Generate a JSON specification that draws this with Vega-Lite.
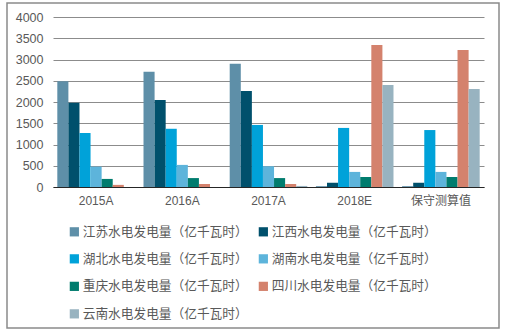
{
  "$schema": "https://vega.github.io/schema/vega-lite/v6.json",
  "width": 492,
  "height": 325,
  "autosize": {"type": "none"},
  "padding": {"left": 7, "top": 3, "right": 8, "bottom": 4},
  "background": "white",
  "config": {
    "view": {"stroke": "#8a8a8a", "strokeWidth": 1.5},
    "font": "Liberation Sans, Noto Sans CJK SC"
  },
  "data": {
    "values": [
      {"category": "2015A", "series": "江苏水电发电量（亿千瓦时）", "value": 2490},
      {"category": "2015A", "series": "江西水电发电量（亿千瓦时）", "value": 1980},
      {"category": "2015A", "series": "湖北水电发电量（亿千瓦时）", "value": 1270},
      {"category": "2015A", "series": "湖南水电发电量（亿千瓦时）", "value": 480},
      {"category": "2015A", "series": "重庆水电发电量（亿千瓦时）", "value": 190},
      {"category": "2015A", "series": "四川水电发电量（亿千瓦时）", "value": 50},
      {"category": "2015A", "series": "云南水电发电量（亿千瓦时）", "value": 0},
      {"category": "2016A", "series": "江苏水电发电量（亿千瓦时）", "value": 2710},
      {"category": "2016A", "series": "江西水电发电量（亿千瓦时）", "value": 2050},
      {"category": "2016A", "series": "湖北水电发电量（亿千瓦时）", "value": 1370},
      {"category": "2016A", "series": "湖南水电发电量（亿千瓦时）", "value": 520},
      {"category": "2016A", "series": "重庆水电发电量（亿千瓦时）", "value": 210},
      {"category": "2016A", "series": "四川水电发电量（亿千瓦时）", "value": 70},
      {"category": "2016A", "series": "云南水电发电量（亿千瓦时）", "value": 0},
      {"category": "2017A", "series": "江苏水电发电量（亿千瓦时）", "value": 2900},
      {"category": "2017A", "series": "江西水电发电量（亿千瓦时）", "value": 2260},
      {"category": "2017A", "series": "湖北水电发电量（亿千瓦时）", "value": 1460},
      {"category": "2017A", "series": "湖南水电发电量（亿千瓦时）", "value": 490},
      {"category": "2017A", "series": "重庆水电发电量（亿千瓦时）", "value": 210},
      {"category": "2017A", "series": "四川水电发电量（亿千瓦时）", "value": 70},
      {"category": "2017A", "series": "云南水电发电量（亿千瓦时）", "value": 25},
      {"category": "2018E", "series": "江苏水电发电量（亿千瓦时）", "value": 20},
      {"category": "2018E", "series": "江西水电发电量（亿千瓦时）", "value": 100},
      {"category": "2018E", "series": "湖北水电发电量（亿千瓦时）", "value": 1390},
      {"category": "2018E", "series": "湖南水电发电量（亿千瓦时）", "value": 355},
      {"category": "2018E", "series": "重庆水电发电量（亿千瓦时）", "value": 235},
      {"category": "2018E", "series": "四川水电发电量（亿千瓦时）", "value": 3340},
      {"category": "2018E", "series": "云南水电发电量（亿千瓦时）", "value": 2400},
      {"category": "保守测算值", "series": "江苏水电发电量（亿千瓦时）", "value": 20},
      {"category": "保守测算值", "series": "江西水电发电量（亿千瓦时）", "value": 100},
      {"category": "保守测算值", "series": "湖北水电发电量（亿千瓦时）", "value": 1340},
      {"category": "保守测算值", "series": "湖南水电发电量（亿千瓦时）", "value": 355},
      {"category": "保守测算值", "series": "重庆水电发电量（亿千瓦时）", "value": 235},
      {"category": "保守测算值", "series": "四川水电发电量（亿千瓦时）", "value": 3225},
      {"category": "保守测算值", "series": "云南水电发电量（亿千瓦时）", "value": 2305}
    ]
  },
  "mark": {"type": "bar"},
  "encoding": {
    "x": {
      "field": "category",
      "type": "nominal",
      "sort": null,
      "scale": {"range": [46, 477], "paddingInner": 0.1, "paddingOuter": 0.05},
      "axis": {
        "title": null,
        "labelAngle": 0,
        "offset": -141,
        "domainColor": "#262626",
        "domainWidth": 1.2,
        "ticks": false,
        "labelPadding": 8,
        "labelFontSize": 12,
        "labelColor": "#595959",
        "labelFont": "Liberation Sans, Noto Sans CJK SC"
      }
    },
    "xOffset": {
      "field": "series",
      "type": "nominal",
      "sort": null,
      "scale": {"paddingInner": 0, "paddingOuter": 0}
    },
    "y": {
      "field": "value",
      "type": "quantitative",
      "scale": {"domain": [0, 4000], "range": [184, 14], "nice": false},
      "axis": {
        "title": null,
        "values": [0, 500, 1000, 1500, 2000, 2500, 3000, 3500, 4000],
        "format": "d",
        "offset": -46,
        "domain": false,
        "ticks": false,
        "labelPadding": 10,
        "labelFontSize": 12.5,
        "labelColor": "#595959",
        "gridColor": "#8c8c8c",
        "gridWidth": 1,
        "grid": true
      }
    },
    "color": {
      "field": "series",
      "type": "nominal",
      "sort": null,
      "scale": {
        "domain": ["江苏水电发电量（亿千瓦时）", "江西水电发电量（亿千瓦时）", "湖北水电发电量（亿千瓦时）", "湖南水电发电量（亿千瓦时）", "重庆水电发电量（亿千瓦时）", "四川水电发电量（亿千瓦时）", "云南水电发电量（亿千瓦时）"],
        "range": ["#5E8FA8", "#00506C", "#00A2D9", "#5DB4DB", "#007C6E", "#D4826D", "#98B3C0"]
      },
      "legend": {
        "title": null,
        "orient": "none",
        "legendX": 61,
        "legendY": 222,
        "direction": "horizontal",
        "columns": 2,
        "columnPadding": 9,
        "rowPadding": 13.5,
        "symbolType": "square",
        "symbolSize": 85,
        "symbolStrokeWidth": 0,
        "labelOffset": 2,
        "labelFontSize": 12.7,
        "labelColor": "#595959",
        "labelFont": "Noto Sans CJK SC",
        "labelLimit": 300
      }
    }
  }
}
